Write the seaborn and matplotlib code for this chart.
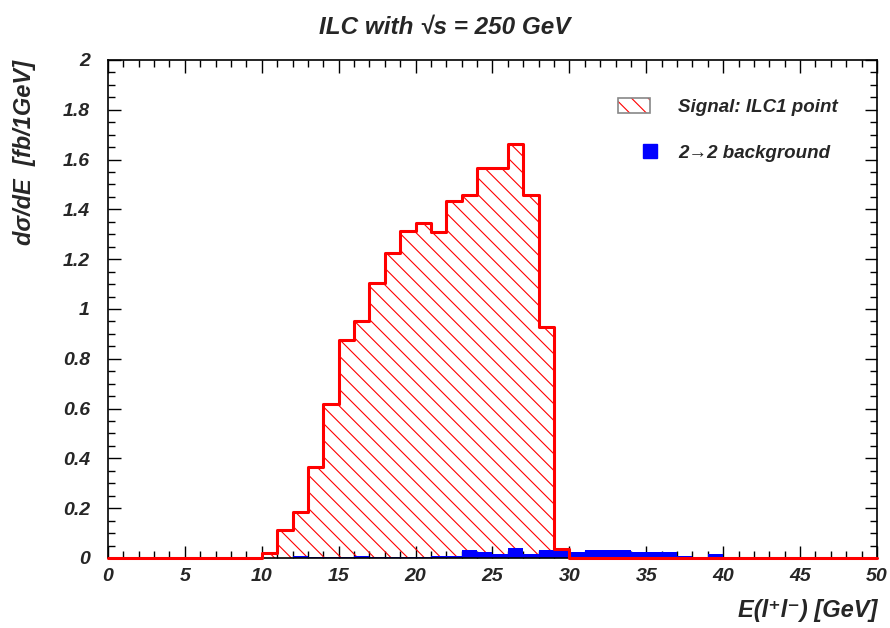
import numpy as np
import matplotlib
matplotlib.use('Agg')
import matplotlib.pyplot as plt
import matplotlib.ticker as tick
from matplotlib.patches import Patch
from matplotlib.lines import Line2D
from matplotlib.legend_handler import HandlerLine2D
import seaborn as sbn

# 1 GeV bins from 0 to 50
BIN_RANGE = (0, 50)
BIN_CENTERS = np.arange(0, 50) + 0.5

# signal: ILC1 point, d sigma/dE [fb/1GeV]
SIGNAL = [0, 0, 0, 0, 0, 0, 0, 0, 0, 0,
          0.021, 0.113, 0.184, 0.364, 0.619, 0.876, 0.950, 1.103, 1.224, 1.313,
          1.347, 1.311, 1.435, 1.456, 1.567, 1.566, 1.663, 1.458, 0.926, 0.035,
          0, 0, 0, 0, 0, 0, 0, 0, 0, 0,
          0, 0, 0, 0, 0, 0, 0, 0, 0, 0]

# 2->2 background
BACKGROUND = [0, 0, 0, 0, 0, 0, 0, 0, 0, 0,
              0, 0, 0.008, 0.002, 0.002, 0.002, 0.008, 0.003, 0.002, 0.002,
              0.003, 0.008, 0.006, 0.032, 0.025, 0.014, 0.041, 0.017, 0.032, 0.040,
              0.023, 0.032, 0.032, 0.032, 0.023, 0.023, 0.023, 0.009, 0, 0.017,
              0, 0, 0, 0, 0, 0, 0, 0, 0, 0]

X_TICKS = [0, 5, 10, 15, 20, 25, 30, 35, 40, 45, 50]
Y_TICKS = [0, 0.2, 0.4, 0.6, 0.8, 1.0, 1.2, 1.4, 1.6, 1.8, 2.0]


class RightMarkerHandler(HandlerLine2D):
    """ Draw a single legend marker at the right end of the handle box (ROOT style)."""
    def get_xdata(self, legend, xdescent, ydescent, width, height, fontsize):
        x = -xdescent + width
        return np.array([x]), np.array([x])


sbn.set_style('ticks')
plt.rcParams['font.family'] = ['Liberation Sans', 'DejaVu Sans']
plt.rcParams['font.weight'] = 'bold'
plt.rcParams['font.style'] = 'italic'
plt.rcParams['axes.labelweight'] = 'bold'
plt.rcParams['hatch.linewidth'] = 0.8
plt.rcParams['hatch.color'] = 'red'

fig = plt.figure(figsize=(8.9, 6.28), dpi=100)
ax = fig.add_axes([0.1213, 0.1115, 0.8641, 0.793])

hist_kws = dict(x=BIN_CENTERS, binwidth=1, binrange=BIN_RANGE, ax=ax)

# hatched signal area
sbn.histplot(weights=SIGNAL, element='step', fill=True, color='red', facecolor='none',
             edgecolor='red', hatch='\\\\', linewidth=0, alpha=1, **hist_kws)
# background bars
sbn.histplot(weights=BACKGROUND, element='bars', fill=True, color='blue',
             edgecolor='none', linewidth=0, alpha=1, **hist_kws)
# signal outline (on top, baseline included)
sbn.histplot(weights=SIGNAL, element='step', fill=False, color='red', linewidth=2.2,
             zorder=3, clip_on=False, **hist_kws)

ax.set_xlim(0, 50)
ax.set_ylim(0, 2)
ax.set_xticks(X_TICKS)
ax.set_yticks(Y_TICKS)
ax.xaxis.set_minor_locator(tick.MultipleLocator(1))
ax.yaxis.set_minor_locator(tick.MultipleLocator(0.05))
ax.yaxis.set_major_formatter(tick.FuncFormatter(lambda v, _: f'{v:g}'))
ax.tick_params(which='both', direction='in', top=True, right=True, width=1, color='black')
ax.tick_params(which='major', length=9, labelsize=14)
ax.tick_params(which='minor', length=5)
ax.tick_params(axis='y', pad=13)
ax.tick_params(axis='x', pad=7)
for s in ax.spines.values():
    s.set_linewidth(1.2)
    s.set_color('black')

ax.set_xlabel('E(l⁺l⁻) [GeV]', loc='right', fontsize=17, fontweight='bold')
ax.set_ylabel('dσ/dE  [fb/1GeV]', loc='top', fontsize=17, fontweight='bold')
ax.xaxis.set_label_coords(1.0, -0.083)
ax.yaxis.set_label_coords(-0.094, 1.0)
fig.suptitle('ILC with √s = 250 GeV', fontsize=17.5, fontweight='bold', style='italic', y=0.975)

sig_handle = (Patch(facecolor='white', edgecolor='red', hatch='\\\\', linewidth=0),
              Patch(facecolor='none', edgecolor='#888888', linewidth=1.2))
bkg_handle = Line2D([], [], marker='s', linestyle='none', color='blue', markersize=9.5)
ax.legend([sig_handle, bkg_handle], ['Signal: ILC1 point', '2→2 background'],
          loc='upper left', bbox_to_anchor=(618 / 890, 1 - 98 / 628),
          bbox_transform=fig.transFigure, frameon=False, fontsize=13.5,
          borderpad=0, borderaxespad=0, labelspacing=1.5, handlelength=1.71,
          handleheight=0.85, handletextpad=1.5,
          handler_map={bkg_handle: RightMarkerHandler(numpoints=2)})

fig.savefig('out.png', dpi=100)
